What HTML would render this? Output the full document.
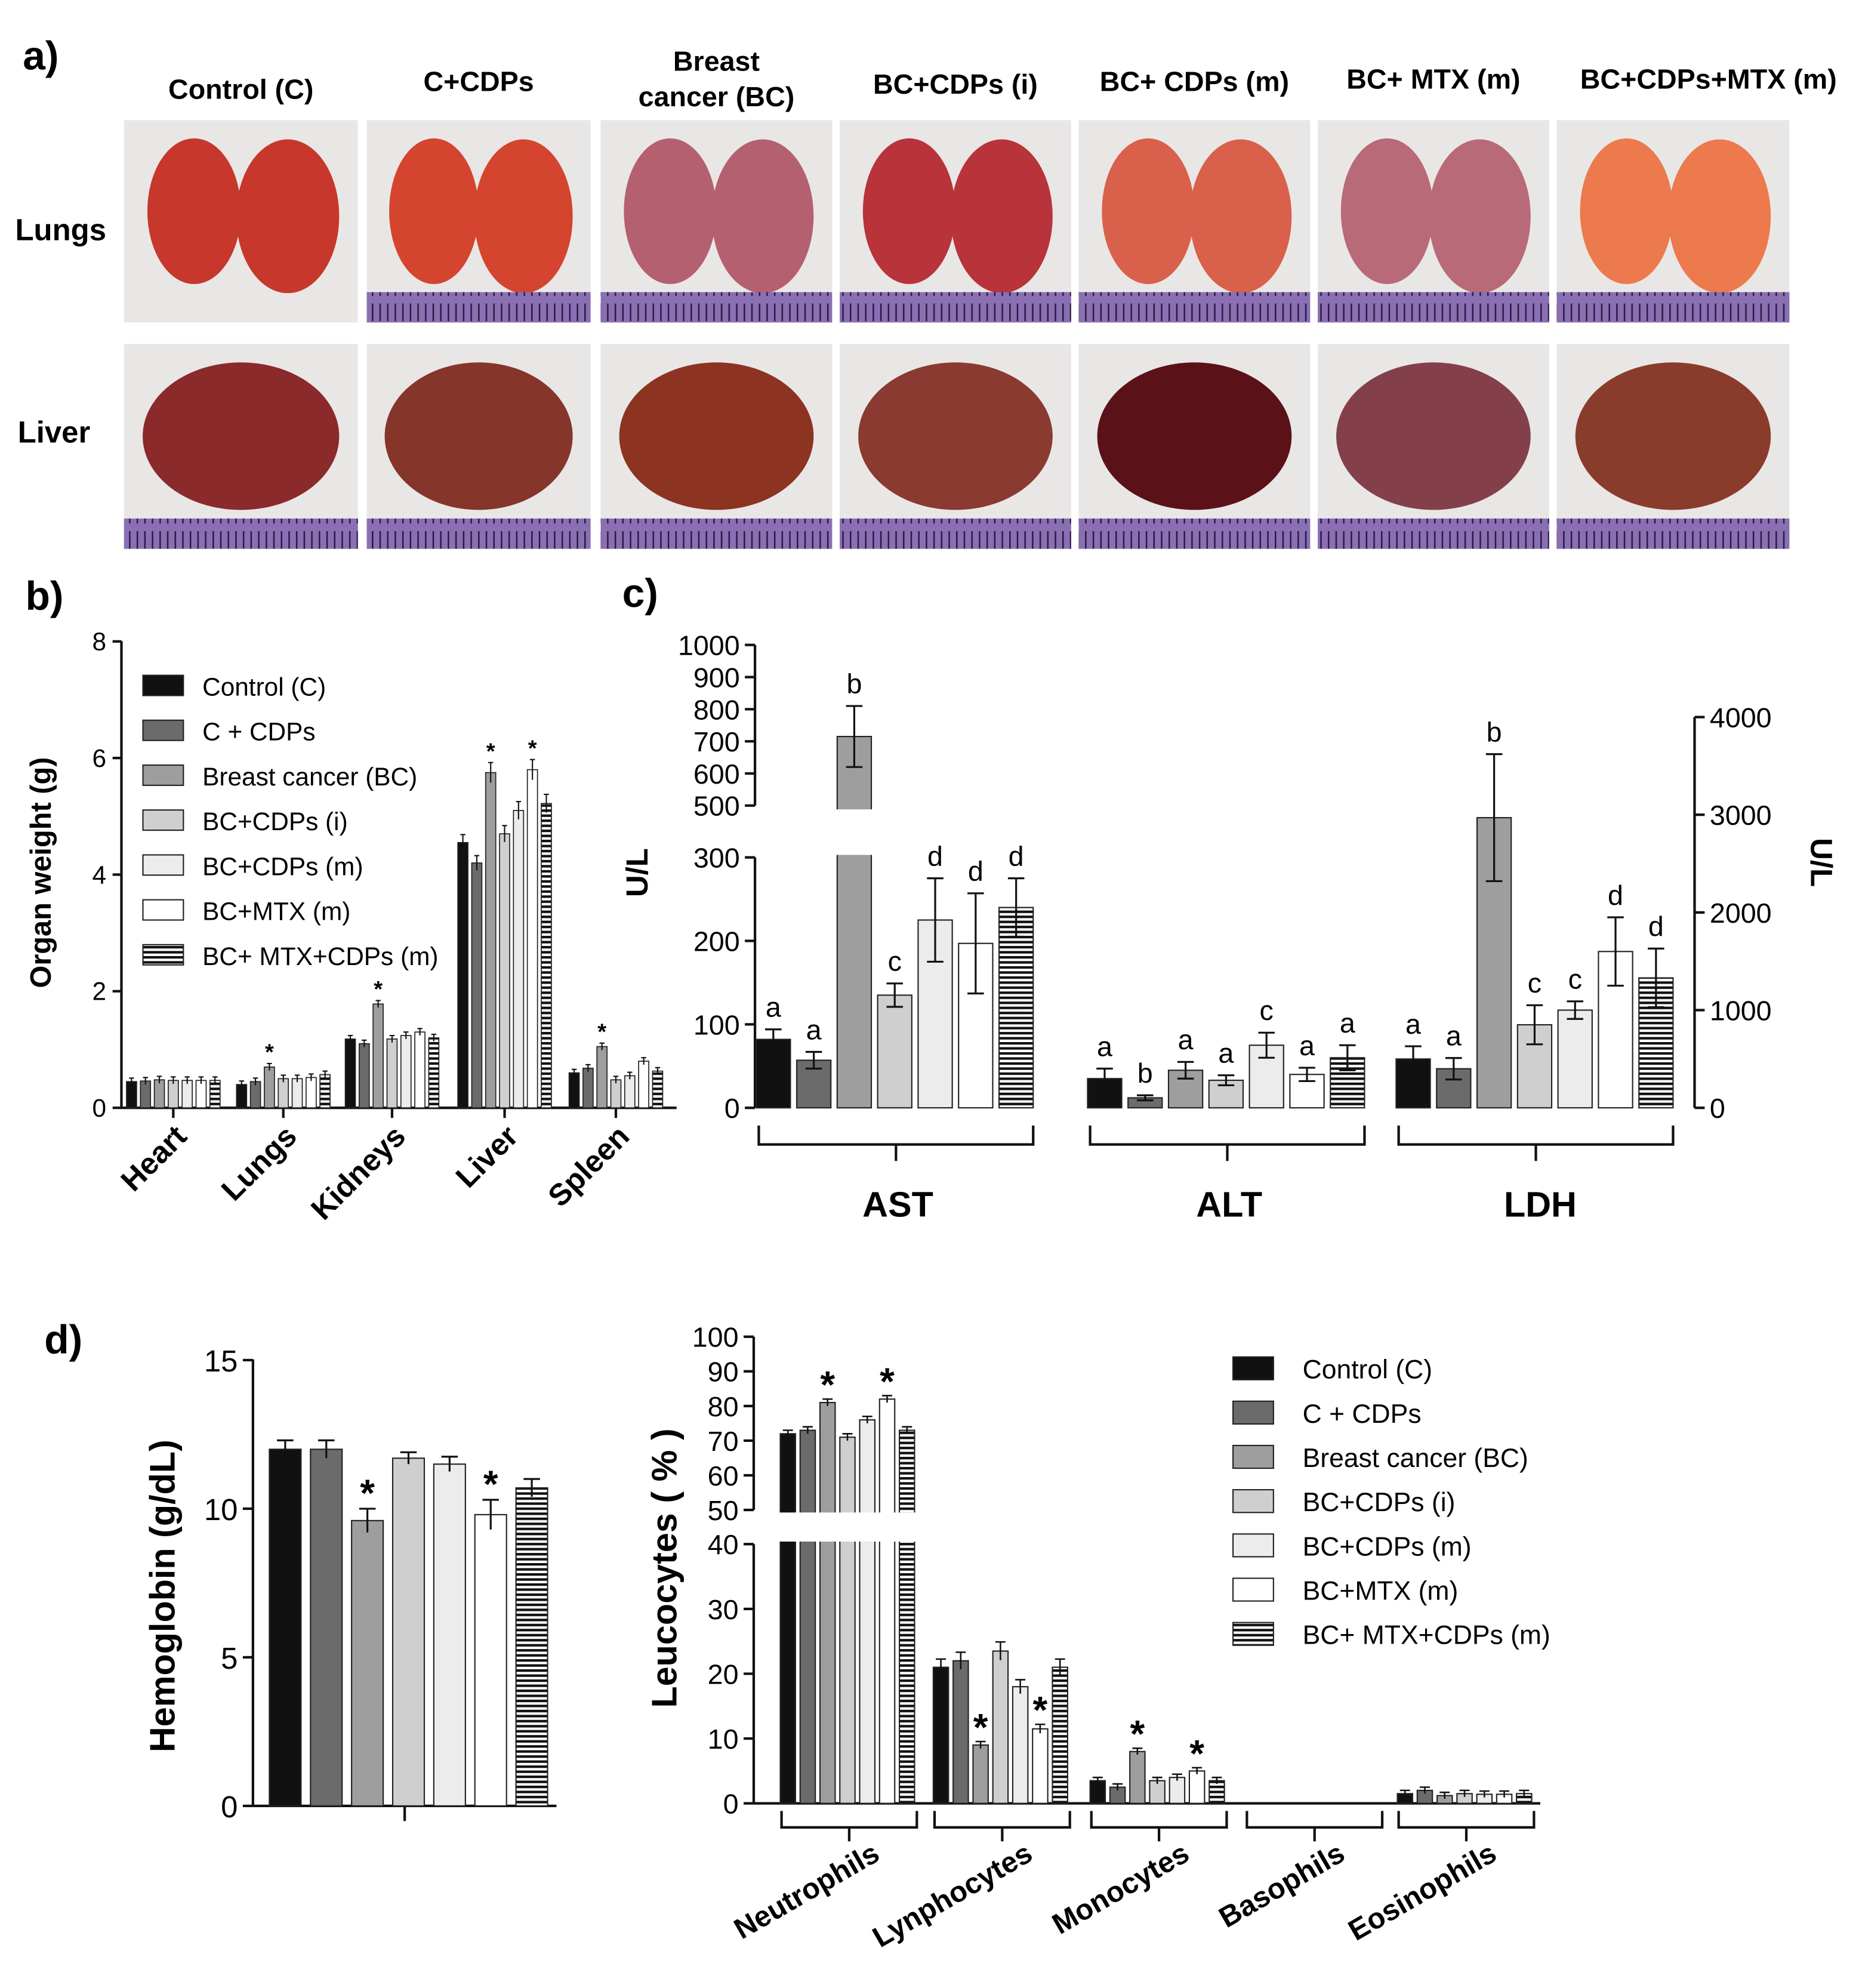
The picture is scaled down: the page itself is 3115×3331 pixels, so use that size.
<!DOCTYPE html>
<html><head><meta charset="utf-8"><style>
html,body{margin:0;padding:0;background:#fff}
svg{display:block}
text{font-family:"Liberation Sans",Arial,sans-serif}
</style></head><body>
<svg id="fig" xmlns="http://www.w3.org/2000/svg" width="3115" height="3331" viewBox="0 0 1470 1572">
<defs>
<pattern id="stripe" width="6" height="4" patternUnits="userSpaceOnUse"><rect width="6" height="4" fill="#fff"/><rect width="6" height="2" fill="#111"/></pattern>
<pattern id="ruler" width="6" height="20" patternUnits="userSpaceOnUse"><rect width="6" height="20" fill="#8a6fb3"/><rect x="0" width="1.2" height="14" fill="#2a1d44"/></pattern>
</defs>
<g id="root"></g>
</svg>
<script>
// ---------- data ----------
const groupNames = ["Control (C)","C + CDPs","Breast cancer (BC)","BC+CDPs (i)","BC+CDPs (m)","BC+MTX (m)","BC+ MTX+CDPs (m)"];
const organCats = ["Heart","Lungs","Kidneys","Liver","Spleen"];
const organHeart = [0.45,0.46,0.48,0.47,0.47,0.47,0.47];
const organLungs = [0.40,0.45,0.70,0.50,0.50,0.52,0.57];
const organKidneys = [1.18,1.10,1.78,1.18,1.24,1.30,1.20];
const organLiver = [4.55,4.20,5.75,4.70,5.10,5.80,5.22];
const organSpleen = [0.60,0.68,1.05,0.48,0.55,0.80,0.63];
const organStar = [[],[2],[2],[2,5],[2]];
const organTicks = [0,2,4,6,8];
const astVals = [82,57,715,135,225,197,240];
const astErr = [12,10,95,14,50,60,35];
const altVals = [35,12,45,33,75,40,60];
const altErr = [12,3,10,6,15,8,15];
const ldhVals = [500,400,2970,850,1000,1600,1330];
const ldhErr = [130,110,650,200,90,350,300];
const astLetters = ["a","a","b","c","d","d","d"];
const altLetters = ["a","b","a","a","c","a","a"];
const ldhLetters = ["a","a","b","c","c","d","d"];
const cLowTicks = [0,100,200,300];
const cHighTicks = [500,600,700,800,900,1000];
const cRightTicks = [0,1000,2000,3000,4000];
const hbVals = [12.0,12.0,9.6,11.7,11.5,9.8,10.7];
const hbErr = [0.3,0.3,0.4,0.2,0.25,0.5,0.3];
const hbStar = [2,5];
const hbTicks = [0,5,10,15];
const leuCats = ["Neutrophils","Lynphocytes","Monocytes","Basophils","Eosinophils"];
const leuNeut = [72,73,81,71,76,82,73];
const leuLymph = [21,22,9,23.5,18,11.5,21];
const leuMono = [3.5,2.5,8,3.5,4,5,3.5];
const leuBaso = [0,0,0,0,0,0,0];
const leuEos = [1.5,2,1.2,1.5,1.4,1.4,1.5];
const leuStar = [[2,5],[2,5],[2,5],[],[]];
const leuLowTicks = [0,10,20,30,40];
const leuHighTicks = [50,60,70,80,90,100];

const fills = ["#111","#6b6b6b","#9e9e9e","#cfcfcf","#ececec","#fff","url(#stripe)"];
const NS = "http://www.w3.org/2000/svg";
const root = document.getElementById("root");
function mk(tag, a, parent){const e=document.createElementNS(NS,tag);for(const k in a)e.setAttribute(k,a[k]);(parent||root).appendChild(e);return e;}
function txt(x,y,s,size,extra,parent){const t=mk("text",Object.assign({x:x,y:y,"font-size":size},extra||{}),parent);t.textContent=s;return t;}
function line(x1,y1,x2,y2,w,parent){return mk("line",{x1:x1,y1:y1,x2:x2,y2:y2,stroke:"#111","stroke-width":w||1.5},parent);}

// ---------- panel a ----------
const pa = mk("g",{});


let l = txt(18,55,"a)",32,{"font-weight":"bold"},pa);


const colX = [98,290,475,664,853,1042,1231];
const colW = [185,177,183,183,183,183,184];
const heads = [["Control (C)"],["C+CDPs"],["Breast","cancer (BC)"],["BC+CDPs (i)"],["BC+ CDPs (m)"],["BC+ MTX (m)"],["BC+CDPs+MTX (m)"]];
const headY = [78,72,56,74,72,70,70];
heads.forEach((h,i)=>{h.forEach((s,j)=>{const t=txt(colX[i]+colW[i]/2+(i==6?28:0),headY[i]+j*28,s,22,{"font-weight":"bold","text-anchor":"middle"},pa);

});});
l=txt(12,190,"Lungs",24,{"font-weight":"bold"},pa);


l=txt(14,350,"Liver",24,{"font-weight":"bold"},pa);


const lungCol = ["#c8372b","#d5442f","#b56070","#b8333a","#d9604a","#b86a78","#ec7a4c"];
const liverCol = ["#8a2a2a","#86352b","#8c3322","#8a3a30","#5a1218","#84404a","#8a3c2c"];
[[95,160,lungCol],[272,162,liverCol]].forEach((r,ri)=>{
 colX.forEach((x,i)=>{
  const g=mk("g",{},pa);
  
  
  mk("rect",{x:x,y:r[0],width:colW[i],height:r[1],fill:"#e9e7e6"},g);
  const cx=x+colW[i]/2, cy=r[0]+r[1]*0.45;
  if(ri==0){
   mk("ellipse",{cx:cx-colW[i]*0.2,cy:cy,rx:colW[i]*0.2,ry:r[1]*0.36,fill:r[2][i]},g);
   mk("ellipse",{cx:cx+colW[i]*0.2,cy:cy+4,rx:colW[i]*0.22,ry:r[1]*0.38,fill:r[2][i]},g);
  } else {
   mk("ellipse",{cx:cx,cy:cy,rx:colW[i]*0.42,ry:r[1]*0.36,fill:r[2][i]},g);
  }
  if(!(ri==0&&i==0)) mk("rect",{x:x,y:r[0]+r[1]-24,width:colW[i],height:24,fill:"url(#ruler)"},g);
 });
});

// ---------- panel b ----------
const pb = mk("g",{});


l=txt(20,482,"b)",32,{"font-weight":"bold"},pb);


const bY = v => 876 - v*46.1;
const bAxX = 96;
line(bAxX,507,bAxX,876,2,pb); line(bAxX,876,535,876,2,pb);
organTicks.forEach(t=>{line(bAxX-7,bY(t),bAxX,bY(t),2,pb);
 const tt=txt(bAxX-12,bY(t)+7,String(t),20,{"text-anchor":"end"},pb);
 
 });
l=txt(0,0,"Organ weight (g)",23,{"font-weight":"bold","text-anchor":"middle",transform:"translate(40,690) rotate(-90)"},pb);


const organSeries=[organHeart,organLungs,organKidneys,organLiver,organSpleen];
const bStart=[100,187,273,362,450];
organSeries.forEach((vals,gi)=>{
 vals.forEach((v,i)=>{
  const x=bStart[gi]+i*11;
  const r=mk("rect",{x:x,y:bY(v),width:8,height:876-bY(v),fill:fills[i],stroke:"#222","stroke-width":0.8},pb);
  
  
  const e=Math.max(0.06,v*0.03);
  line(x+4,bY(v+e),x+4,bY(v-e),1,pb);line(x+2,bY(v+e),x+6,bY(v+e),1,pb);
  if(organStar[gi].includes(i)){const s=txt(x+4,bY(v+e)-3,"*",18,{"text-anchor":"middle","font-weight":"bold"},pb);
   
   }
 });
 const cx=bStart[gi]+37;
 line(cx,876,cx,884,2,pb);
 const t=txt(0,0,organCats[gi],24,{"font-weight":"bold","text-anchor":"end",transform:`translate(${cx+12},${900}) rotate(-45)`},pb);
 
 
});
groupNames.forEach((n,i)=>{
 const y=543+i*35.5;
 const r=mk("rect",{x:113,y:y-9,width:32,height:16,fill:fills[i],stroke:"#222","stroke-width":1},pb);
 
 
 const t=txt(160,y+7,n,20,{},pb);
 
 
});

// ---------- panel c ----------
const pc = mk("g",{});


l=txt(492,480,"c)",32,{"font-weight":"bold"},pc);


const cLow = v => 876 - v*0.66;
const cHigh = v => 637 - (v-500)*0.254;
const cRight = v => 876 - v*0.07725;
const cAx=597, cRx=1340;
line(cAx,678,cAx,876,2,pc); line(cAx,510,cAx,637,2,pc); line(cRx,567,cRx,876,2,pc);
cLowTicks.forEach(t=>{line(cAx-8,cLow(t),cAx,cLow(t),2,pc);const tt=txt(cAx-12,cLow(t)+8,String(t),22,{"text-anchor":"end"},pc);
 
 });
cHighTicks.forEach(t=>{line(cAx-8,cHigh(t),cAx,cHigh(t),2,pc);const tt=txt(cAx-12,cHigh(t)+8,String(t),22,{"text-anchor":"end"},pc);
 
 });
cRightTicks.forEach(t=>{line(cRx,cRight(t),cRx+8,cRight(t),2,pc);const tt=txt(cRx+12,cRight(t)+8,String(t),22,{},pc);
 
 });
l=txt(0,0,"U/L",24,{"font-weight":"bold","text-anchor":"middle",transform:"translate(512,690) rotate(-90)"},pc);


l=txt(0,0,"U/L",24,{"font-weight":"bold","text-anchor":"middle",transform:"translate(1432,682) rotate(90)"},pc);


function cScale(v){return v<=300?cLow(v):(v>=500?cHigh(v):cLow(300));}
const cGroups=[[astVals,astErr,astLetters,598,cScale,"AST",710],[altVals,altErr,altLetters,860,cLow,"ALT",972],[ldhVals,ldhErr,ldhLetters,1104,cRight,"LDH",1218]];
cGroups.forEach(g=>{
 const [vals,errs,lets,x0,sc,name,lx]=g;
 vals.forEach((v,i)=>{
  const x=x0+i*32;
  const top=sc(v);
  const r=mk("rect",{x:x,y:top,width:27,height:876-top,fill:fills[i],stroke:"#222","stroke-width":1},pc);
  
  
  const yt=sc(v+errs[i]), yb=sc(v-errs[i]);
  line(x+13.5,yt,x+13.5,Math.min(yb,876),1.5,pc);line(x+7,yt,x+20,yt,1.5,pc);line(x+7,yb,x+20,yb,1.5,pc);
  const t=txt(x+13.5,yt-10,lets[i],22,{"text-anchor":"middle"},pc);
  
  
 });
 const x1=x0+2,x2=x0+6*32+27;
 mk("path",{d:`M${x1},890 L${x1},905 L${x2},905 L${x2},890 M${(x1+x2)/2},905 L${(x1+x2)/2},918`,fill:"none",stroke:"#111","stroke-width":2},pc);
 const t=txt(lx,962,name,28,{"font-weight":"bold","text-anchor":"middle"},pc);
 
 
});
mk("rect",{x:660,y:640,width:40,height:36,fill:"#fff"},pc);

// ---------- panel d hemoglobin ----------
const pd = mk("g",{});


l=txt(35,1070,"d)",32,{"font-weight":"bold"},pd);


const hY = v => 1428 - v*23.5;
const hAx=200;
line(hAx,1075,hAx,1428,2,pd); line(hAx,1428,440,1428,2,pd); line(320,1428,320,1440,2,pd);
hbTicks.forEach(t=>{line(hAx-8,hY(t),hAx,hY(t),2,pd);const tt=txt(hAx-12,hY(t)+9,String(t),24,{"text-anchor":"end"},pd);
 
 });
l=txt(0,0,"Hemoglobin  (g/dL)",28,{"font-weight":"bold","text-anchor":"middle",transform:"translate(138,1262) rotate(-90)"},pd);


hbVals.forEach((v,i)=>{
 const x=213+i*32.5;
 const r=mk("rect",{x:x,y:hY(v),width:25,height:1428-hY(v),fill:fills[i],stroke:"#222","stroke-width":1},pd);
 
 
 const yt=hY(v+hbErr[i]);
 line(x+12.5,yt,x+12.5,hY(v-hbErr[i]),1.5,pd);line(x+6,yt,x+19,yt,1.5,pd);
 if(hbStar.includes(i)){const s=txt(x+12.5,yt-2,"*",30,{"text-anchor":"middle","font-weight":"bold"},pd);
  
  }
});

// ---------- panel d leucocytes ----------
const pl = mk("g",{});


const lLow = v => 1426 - v*5.125;
const lHigh = v => 1194 - (v-50)*2.74;
const lx0=596;
line(lx0,1221,lx0,1426,2,pl); line(lx0,1057,lx0,1194,2,pl); line(lx0,1426,1218,1426,2,pl);
leuLowTicks.forEach(t=>{line(lx0-8,lLow(t),lx0,lLow(t),2,pl);const tt=txt(lx0-12,lLow(t)+8,String(t),22,{"text-anchor":"end"},pl);
 
 });
leuHighTicks.forEach(t=>{line(lx0-8,lHigh(t),lx0,lHigh(t),2,pl);const tt=txt(lx0-12,lHigh(t)+8,String(t),22,{"text-anchor":"end"},pl);
 
 });
l=txt(0,0,"Leucocytes  ( % )",28,{"font-weight":"bold","text-anchor":"middle",transform:"translate(535,1240) rotate(-90)"},pl);


function lScale(v){return v<=40?lLow(v):(v>=50?lHigh(v):lLow(40));}
const leuSeries=[leuNeut,leuLymph,leuMono,leuBaso,leuEos];
const lStart=[617,738,862,985,1105];
leuSeries.forEach((vals,gi)=>{
 vals.forEach((v,i)=>{
  const x=lStart[gi]+i*15.7;
  const top=lScale(v);
  if(v>0){const r=mk("rect",{x:x,y:top,width:12,height:1426-top,fill:fills[i],stroke:"#222","stroke-width":1},pl);
   
   
   const e=v>50?1:Math.max(0.5,v*0.06);
   const yt=lScale(v+e);
   line(x+6,yt,x+6,lScale(v-e),1.2,pl);line(x+2,yt,x+10,yt,1.2,pl);
   if(leuStar[gi].includes(i)){const s=txt(x+6,yt-1,"*",30,{"text-anchor":"middle","font-weight":"bold"},pl);
    
    }
  }
 });
 const x1=lStart[gi]+1,x2=lStart[gi]+108;
 mk("path",{d:`M${x1},1432 L${x1},1445 L${x2},1445 L${x2},1432 M${(x1+x2)/2},1445 L${(x1+x2)/2},1456`,fill:"none",stroke:"#111","stroke-width":2},pl);
 const t=txt(0,0,leuCats[gi],23,{"font-weight":"bold","text-anchor":"end",transform:`translate(${lStart[gi]+80},${1470}) rotate(-30)`},pl);
 
 
});
mk("rect",{x:612,y:1196,width:120,height:23,fill:"#fff"},pl);
groupNames.forEach((n,i)=>{
 const y=1082+i*35;
 const r=mk("rect",{x:975,y:y-9,width:32,height:18,fill:fills[i],stroke:"#222","stroke-width":1},pl);
 
 
 const t=txt(1030,y+8,n,21,{},pl);
 
 
});
</script>
</body></html>
